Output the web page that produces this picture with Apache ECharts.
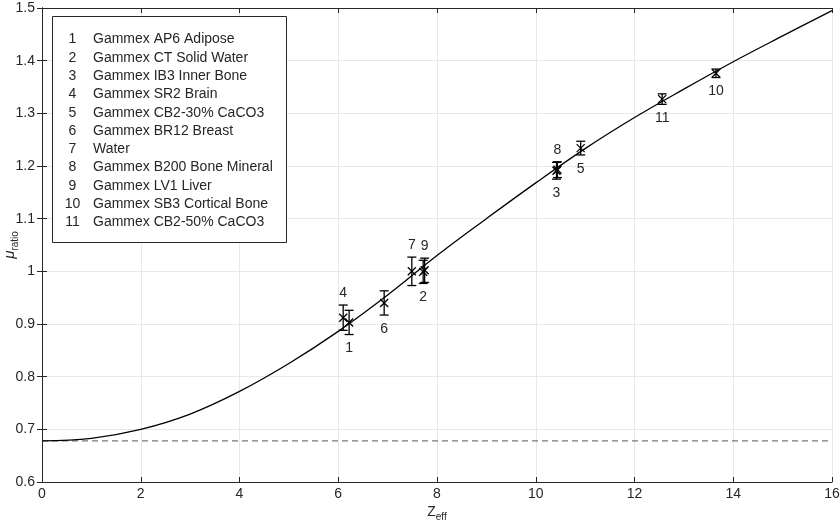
<!DOCTYPE html>
<html>
<head>
<meta charset="utf-8">
<script src="https://cdn.jsdelivr.net/npm/echarts@6/dist/echarts.min.js"></script>
<style>html,body{margin:0;padding:0;background:#fff}#c{width:840px;height:523px}</style>
</head>
<body>
<div id="c"></div>
<script>
// ---- data ----
const curveZ  = [0, 1, 2, 3, 4, 5, 6, 7, 8, 9, 10, 11, 12, 13, 14, 15, 16];
const curveMu = [0.678, 0.683, 0.700, 0.729, 0.772, 0.825, 0.886, 0.955, 1.030, 1.100, 1.168, 1.233, 1.292, 1.346, 1.398, 1.447, 1.495];
const baselineMu = 0.678;
const phantomIds   = [1, 2, 3, 4, 5, 6, 7, 8, 9, 10, 11];
const phantomNames = ['Gammex AP6 Adipose', 'Gammex CT Solid Water', 'Gammex IB3 Inner Bone', 'Gammex SR2 Brain',
  'Gammex CB2-30% CaCO3', 'Gammex BR12 Breast', 'Water', 'Gammex B200 Bone Mineral', 'Gammex LV1 Liver',
  'Gammex SB3 Cortical Bone', 'Gammex CB2-50% CaCO3'];
const phantomZ   = [6.22, 7.72, 10.42, 6.10, 10.91, 6.93, 7.49, 10.44, 7.75, 13.65, 12.56];
const phantomMu  = [0.903, 0.999, 1.191, 0.912, 1.234, 0.940, 1.000, 1.193, 1.002, 1.376, 1.327];
const phantomErr = [0.023, 0.022, 0.016, 0.024, 0.013, 0.023, 0.027, 0.015, 0.023, 0.008, 0.010];
const xTickStep = 2, yTickStep = 0.1;

// label placement (style): above or below the error bar
const labelAbove = {4: true, 7: true, 8: true, 9: true};

const FONT = 'Liberation Sans, Arial, Helvetica, sans-serif';
const TXT = '#262626';
const AX = '#262626';

const chart = echarts.init(document.getElementById('c'), null, {renderer: 'canvas'});

const ptData = phantomIds.map((id, i) => [phantomZ[i], phantomMu[i], phantomErr[i], id]);

const legendChildren = [{
  type: 'rect', z: 100, shape: {x: 52.5, y: 16.5, width: 234, height: 226},
  style: {fill: '#fff', stroke: '#262626', lineWidth: 1}
}];
phantomIds.forEach((id, i) => {
  const y = 39.5 + i * 18.3;
  legendChildren.push({type: 'text', z: 101, x: 72.5, y: y,
    style: {text: String(id), font: '14px ' + FONT, fill: TXT, align: 'center', verticalAlign: 'middle'}});
  legendChildren.push({type: 'text', z: 101, x: 93, y: y,
    style: {text: phantomNames[i], font: '14px ' + FONT, fill: TXT, align: 'left', verticalAlign: 'middle'}});
});

const axisCommon = {
  axisLine: {show: true, lineStyle: {color: AX, width: 1}},
  axisTick: {show: true, inside: true, length: 5, lineStyle: {color: AX}},
  splitLine: {show: false},
};

const option = {
  animation: false,
  backgroundColor: '#fff',
  grid: {left: 42, right: 8, top: 8, bottom: 41, containLabel: false, outerBoundsMode: 'none'},
  xAxis: [
    Object.assign({}, axisCommon, {
      type: 'value', min: 0, max: 16, interval: xTickStep, position: 'bottom',
      axisLabel: {color: TXT, fontSize: 14, fontFamily: FONT, margin: 5},
      splitLine: {show: true, lineStyle: {color: '#e8e8e8', width: 1}},
      name: '{a|Z}{s|eff}', nameLocation: 'middle', nameGap: 20, nameMoveOverlap: false,
      nameTextStyle: {rich: {
        a: {fontSize: 14, fontFamily: FONT, color: TXT},
        s: {fontSize: 10, fontFamily: FONT, color: TXT, padding: [10, 0, 0, 0]}
      }}
    }),
    Object.assign({}, axisCommon, {
      type: 'value', min: 0, max: 16, interval: xTickStep, position: 'top',
      axisLabel: {show: false}
    })
  ],
  yAxis: [
    Object.assign({}, axisCommon, {
      type: 'value', min: 0.6, max: 1.5, interval: yTickStep, position: 'left',
      axisLabel: {color: TXT, fontSize: 14, fontFamily: FONT, margin: 7,
        formatter: v => String(+v.toFixed(1))},
      splitLine: {show: true, lineStyle: {color: '#e8e8e8', width: 1}},
      name: '{a|μ}{s|ratio}', nameLocation: 'middle', nameGap: 22, nameRotate: 90, nameMoveOverlap: false,
      nameTextStyle: {rich: {
        a: {fontSize: 15, fontFamily: FONT, color: TXT, fontStyle: 'italic'},
        s: {fontSize: 10, fontFamily: FONT, color: TXT, padding: [10, 0, 0, 0]}
      }}
    }),
    Object.assign({}, axisCommon, {
      type: 'value', min: 0.6, max: 1.5, interval: yTickStep, position: 'right',
      axisLabel: {show: false}
    })
  ],
  series: [
    {
      type: 'line', name: 'baseline', xAxisIndex: 0, yAxisIndex: 0,
      data: [[curveZ[0], baselineMu], [curveZ[curveZ.length - 1], baselineMu]],
      showSymbol: false, symbol: 'none',
      lineStyle: {color: '#555', width: 1, type: [6, 4]}, z: 2, silent: true
    },
    {
      type: 'line', name: 'model', xAxisIndex: 0, yAxisIndex: 0,
      data: curveZ.map((z, i) => [z, curveMu[i]]),
      smooth: 0.4, showSymbol: false, symbol: 'none',
      lineStyle: {color: '#000', width: 1.3}, z: 3, silent: true
    },
    {
      type: 'custom', name: 'phantoms', xAxisIndex: 0, yAxisIndex: 0,
      data: ptData, z: 4, silent: true,
      renderItem: function (params, api) {
        const z = api.value(0), mu = api.value(1), e = api.value(2), id = api.value(3);
        const c = api.coord([z, mu]);
        const t = api.coord([z, mu + e]);
        const b = api.coord([z, mu - e]);
        const cap = 4.5, m = 4;
        const st = {stroke: '#000', lineWidth: 1.3};
        const above = !!labelAbove[id];
        return {type: 'group', children: [
          {type: 'line', shape: {x1: c[0], y1: t[1], x2: c[0], y2: b[1]}, style: st},
          {type: 'line', shape: {x1: c[0] - cap, y1: t[1], x2: c[0] + cap, y2: t[1]}, style: st},
          {type: 'line', shape: {x1: c[0] - cap, y1: b[1], x2: c[0] + cap, y2: b[1]}, style: st},
          {type: 'line', shape: {x1: c[0] - m, y1: c[1] - m, x2: c[0] + m, y2: c[1] + m}, style: st},
          {type: 'line', shape: {x1: c[0] - m, y1: c[1] + m, x2: c[0] + m, y2: c[1] - m}, style: st},
          {type: 'text', x: c[0], y: above ? t[1] - 5 : b[1] + 7,
            style: {text: String(id), font: '14px ' + FONT, fill: TXT, align: 'center',
              verticalAlign: above ? 'bottom' : 'top'}}
        ]};
      }
    }
  ],
  graphic: [{type: 'group', z: 100, children: legendChildren}]
};
chart.setOption(option);
</script>
</body>
</html>
